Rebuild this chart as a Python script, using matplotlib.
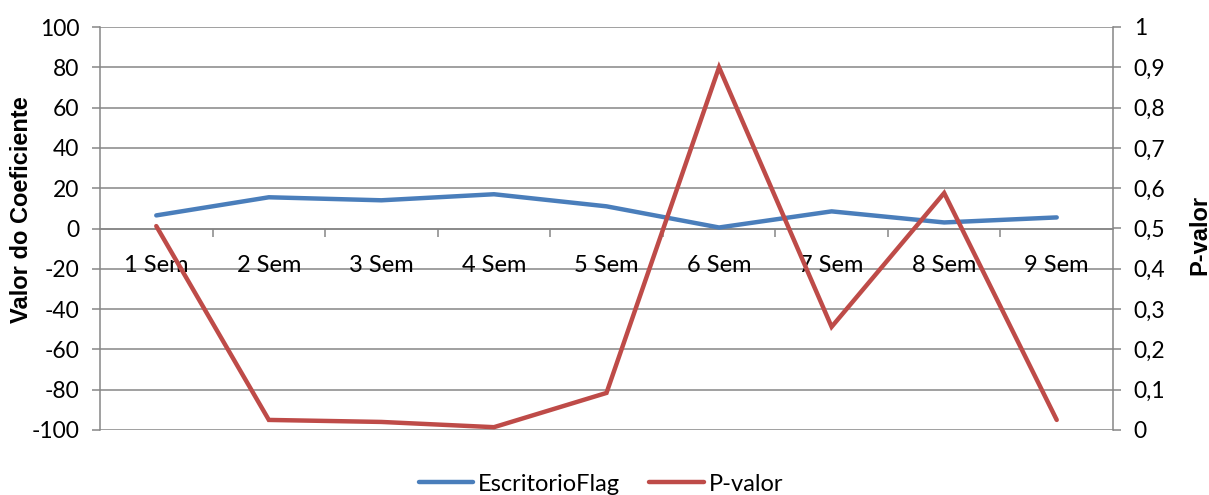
import matplotlib
matplotlib.use("Agg")
import matplotlib.pyplot as plt
from matplotlib.lines import Line2D

plt.rcParams['font.family'] = ['Lato', 'DejaVu Sans']

categories = ["1 Sem", "2 Sem", "3 Sem", "4 Sem", "5 Sem", "6 Sem", "7 Sem", "8 Sem", "9 Sem"]
coeficiente = [6.5, 15.5, 14, 17, 11, 0.5, 8.5, 3, 5.5]
p_valor = [0.506, 0.025, 0.02, 0.007, 0.092, 0.90, 0.256, 0.588, 0.025]
left_ticks = list(range(-100, 101, 20))
right_ticks = [i / 10 for i in range(11)]
right_labels = ["0"] + ["0," + str(i) for i in range(1, 10)] + ["1"]

blue = "#4A7EBB"
red = "#BE4B48"
grid = "#868686"
fs = 16.5

fig = plt.figure(figsize=(12.09, 4.95), dpi=100)
ax = fig.add_axes([100 / 1209, 65 / 495, 1013 / 1209, 403 / 495])
ax2 = ax.twinx()

x = list(range(len(categories)))
ax.plot(x, coeficiente, color=blue, lw=3.2, solid_capstyle="round", solid_joinstyle="round", zorder=3)
ax2.plot(x, p_valor, color=red, lw=3.2, solid_capstyle="round", solid_joinstyle="miter", zorder=3)

ax.set_xlim(-0.5, len(categories) - 0.5)
ax.set_ylim(-100, 100)
ax2.set_ylim(0, 1)

ax.set_yticks(left_ticks)
ax.set_yticklabels([str(t) for t in left_ticks], fontsize=fs)
ax2.set_yticks(right_ticks)
ax2.set_yticklabels(right_labels, fontsize=fs)

for t in left_ticks:
    ax.axhline(t, color=grid, lw=1.1, zorder=1)

# category axis crossing at zero
ax.spines['bottom'].set_position(('data', 0))
ax.spines['bottom'].set_color(grid)
ax.spines['top'].set_visible(False)
ax.spines['left'].set_color(grid)
ax.spines['right'].set_visible(False)
ax2.spines['top'].set_visible(False)
ax2.spines['bottom'].set_visible(False)
ax2.spines['left'].set_visible(False)
ax2.spines['right'].set_color(grid)
for s in (ax.spines['left'], ax2.spines['right'], ax.spines['bottom']):
    s.set_linewidth(1.1)

ax.set_xticks([i + 0.5 for i in range(len(categories) - 1)])
ax.set_xticklabels([])
ax.set_xticks(x, minor=True)
ax.set_xticklabels(categories, minor=True, fontsize=17)
ax.tick_params(axis='x', which='major', length=6, width=1.1, color=grid, direction='out')
ax.tick_params(axis='x', which='minor', length=0, pad=19)
ax.tick_params(axis='y', length=6, width=1.1, color=grid, pad=9)
ax2.tick_params(axis='y', length=6, width=1.1, color=grid, pad=9)

title_font = dict(fontsize=17, fontweight='bold', family=['Liberation Sans', 'DejaVu Sans'])
ax.set_ylabel("Valor do Coeficiente", **title_font)
ax.yaxis.set_label_coords(-0.066, 0.547)
ax2.set_ylabel("P-valor", **title_font)
ax2.yaxis.set_label_coords(1.074, 0.484)

handles = [Line2D([], [], color=blue, lw=3.2, solid_capstyle="round"),
           Line2D([], [], color=red, lw=3.2, solid_capstyle="round")]
fig.legend(handles, ["EscritorioFlag", "P-valor"], loc="center",
           bbox_to_anchor=(0.497, 0.022), ncol=2, frameon=False, fontsize=17,
           handlelength=2.3, handletextpad=0.2, columnspacing=1.25)

fig.savefig("out.png", dpi=100)
